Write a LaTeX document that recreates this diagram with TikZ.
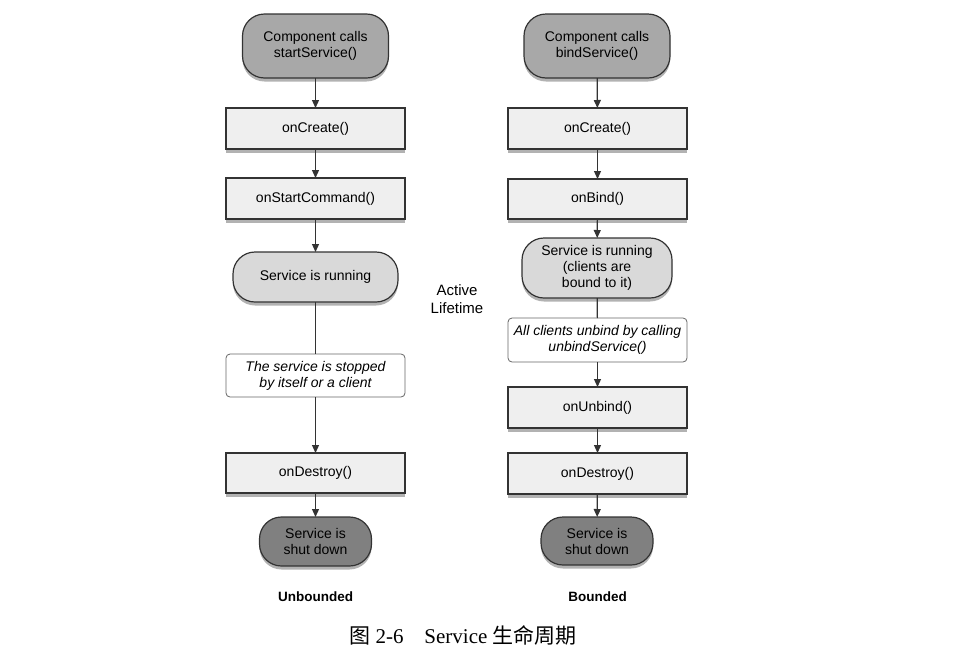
\documentclass[tikz,border=0pt]{standalone}
\usepackage{fontspec}
\setmainfont{Liberation Sans}
\newfontfamily\capfont{Liberation Serif}
\newfontfamily\cjk{Noto Sans CJK SC}
\usetikzlibrary{positioning,arrows.meta,shadows}

\definecolor{edge}{HTML}{333333}
\definecolor{startgray}{HTML}{A8A8A8}
\definecolor{rungray}{HTML}{D9D9D9}
\definecolor{shutgray}{HTML}{808080}
\definecolor{boxgray}{HTML}{EFEFEF}

\begin{document}
\begin{tikzpicture}[
  x=1pt, y=-1pt,
  font=\fontsize{14}{16}\selectfont,
  shade/.style={drop shadow={shadow xshift=0pt, shadow yshift=-3.5pt, fill=black, opacity=.3}},
  pill/.style={draw=edge, line width=1.2pt, rounded corners=22pt, align=center, inner sep=0pt, outer sep=0pt, shade},
  call/.style={pill, fill=startgray, minimum width=146pt, minimum height=64pt},
  run/.style={pill, fill=rungray, minimum height=50pt},
  shut/.style={pill, fill=shutgray, minimum width=112pt, minimum height=49pt},
  cb/.style={draw=edge, line width=1.2pt, fill=boxgray, minimum width=179pt, minimum height=41pt, inner sep=0pt, outer sep=0pt, shade},
  note/.style={draw=black!60, line width=.8pt, fill=white, rounded corners=4pt, minimum width=179pt, minimum height=43pt, align=center, inner sep=0pt, outer sep=0pt, font=\fontsize{14}{16}\selectfont\itshape},
  lbl/.style={font=\fontsize{13.5}{16}\selectfont\bfseries, inner sep=1pt},
  arr/.style={-{Triangle[length=8pt, width=7pt]}, line width=1.2pt, draw=edge},
  ln/.style={line width=1.2pt, draw=edge},
]
\useasboundingbox (0,0) rectangle (969,654);

%% ============ Column 1: Unbounded ============
\node[call] (lst) at (315.5,46) {Component calls\\startService()};
\node[cb] (lcr) at (315.5,128.5) {onCreate()};
\node[cb] (lcmd) at (315.5,198.5) {onStartCommand()};
\node[run, minimum width=165pt] (lrun) at (315.5,277) {Service is running};
\node[note] (lstop) at (315.5,375.5) {The service is stopped\\by itself or a client};
\node[cb, minimum height=40pt] (lds) at (315.5,473) {onDestroy()};
\node[shut] (lsh) at (315.5,541.5) {Service is\\shut down};
\node[lbl] (lname) at (315.5,597) {Unbounded};

%% ============ Column 2: Bounded ============
\node[call] (rst) at (597,46) {Component calls\\bindService()};
\node[cb] (rcr) at (597.5,128.5) {onCreate()};
\node[cb, minimum height=40pt] (rbd) at (597.5,199) {onBind()};
\node[run, minimum width=150pt, minimum height=60pt] (rrun) at (597,268) {Service is running\\(clients are\\bound to it)};
\node[note, minimum height=44pt] (rub) at (597.5,340) {All clients unbind by calling\\unbindService()};
\node[cb] (runb) at (597.5,407.5) {onUnbind()};
\node[cb] (rds) at (597.5,473.5) {onDestroy()};
\node[shut, minimum height=48pt] (rsh) at (597,541) {Service is\\shut down};
\node[lbl] (rname) at (597.5,597) {Bounded};

%% ============ middle + caption ============
\node[align=center, font=\fontsize{15}{18}\selectfont] (act) at (457,299) {Active\\Lifetime};
\node[font=\capfont\fontsize{21}{24}\selectfont] (cap) at (463,635) {{\cjk 图} 2-6\quad Service {\cjk 生命周期}};

%% ============ flows ============
\draw[arr] (lst) -- (lcr);
\draw[arr] (lcr) -- (lcmd);
\draw[arr] (lcmd) -- (lrun);
\draw[ln] (lrun) -- (lstop);
\draw[arr] (lstop) -- (lds);
\draw[arr] (lds) -- (lsh);
% bound side
\draw[arr] (rst) -- (rcr);
\draw[arr] (rcr) -- (rbd);
\draw[arr] (rbd) -- (rrun);
\draw[ln] (rrun) -- (rub);
\draw[arr] (rub) -- (runb);
\draw[arr] (runb) -- (rds);
\draw[arr] (rds) -- (rsh);

\end{tikzpicture}
\end{document}
